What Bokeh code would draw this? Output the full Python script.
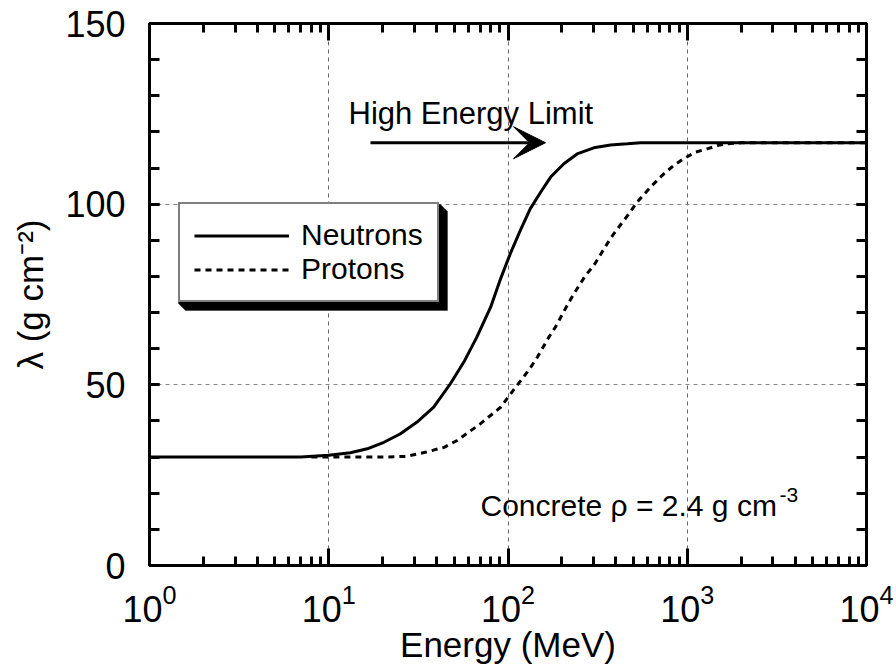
from bokeh.plotting import figure
from bokeh.models import (Range1d, LogAxis, LinearAxis, FixedTicker, SingleIntervalTicker,
                          CustomJSTickFormatter, Legend, LegendItem, Label, Arrow, VeeHead,
                          PolyAnnotation)
from bokeh.embed import file_html
from bokeh.resources import INLINE

# ---------------- data ----------------
energy_neutron = [1, 7, 10, 13.2, 16.4, 20.3, 25, 31.1, 38.5, 47.7, 56.7, 67, 80, 91, 103, 117,
                  133, 152, 173, 205, 243, 301, 373, 462, 550, 10000]
lambda_neutron = [30, 30, 30.5, 31.2, 32.3, 34.1, 36.4, 39.7, 43.8, 50.3, 56.3, 63.2, 71.5, 79.4, 86.3, 92.7,
                  98.7, 103.3, 107.5, 111.2, 113.9, 115.6, 116.4, 116.7, 117, 117]

energy_proton = [8, 20, 27, 35, 44, 52, 70, 91, 110, 122, 134, 146, 169, 184, 214, 233, 271, 301, 357, 389,
                 472, 526, 637, 740, 841, 957, 1112, 1292, 1469, 1671, 2000, 10000]
lambda_proton = [30, 30, 30.2, 31.4, 32.7, 34.6, 39.2, 43.8, 49.3, 52.1, 54.9, 57.7, 63.2, 66.0, 72.0, 75.2,
                 80.3, 83.0, 89.0, 91.8, 97.3, 100.6, 105.2, 108.4, 110.7, 112.6, 114.4, 115.3, 116.2,
                 116.7, 117, 117]

x_major = [1, 10, 100, 1000, 10000]
y_major = [0, 50, 100, 150]
series_names = ["Neutrons", "Protons"]
high_energy_limit = 117

FONT = "Liberation Sans"

# frame geometry (page pixels) used only to place decorations
FX0, FX1, FY0, FY1 = 149, 866, 23, 565
W, H = 896, 666
def xd(px):
    return 10 ** ((px - FX0) / ((FX1 - FX0) / 4.0))
def yd(py):
    return (FY1 - py) / ((FY1 - FY0) / 150.0)

p = figure(width=W, height=H, x_axis_type="log",
           x_range=Range1d(1, 10000), y_range=Range1d(0, 150),
           output_backend="svg", toolbar_location=None,
           min_border_left=FX0, min_border_right=W - FX1, min_border_top=FY0, min_border_bottom=H - FY1)
p.background_fill_color = "white"
p.border_fill_color = "white"
p.outline_line_color = "black"
p.outline_line_width = 3

minor_x = [m * d for d in x_major[:-1] for m in range(2, 10)]
xt = FixedTicker(ticks=x_major, minor_ticks=minor_x)
yt = SingleIntervalTicker(interval=50, num_minor_ticks=5)

def style_axis(ax, is_x):
    ax.axis_line_width = 3
    ax.axis_line_color = "black"
    ax.major_tick_line_width = 3
    ax.minor_tick_line_width = 3
    ax.major_tick_out = 0
    ax.minor_tick_out = 0
    ax.major_tick_in = 17 if is_x else 10
    ax.minor_tick_in = 9 if is_x else 10
    ax.major_label_text_font = FONT
    ax.major_label_text_font_size = "36px"
    ax.major_label_text_color = "black"
    ax.axis_label_text_font = FONT
    ax.axis_label_text_font_style = "normal"
    ax.axis_label_text_color = "black"

xa = p.xaxis[0]
xa.ticker = xt
style_axis(xa, True)
xa.major_label_standoff = 18
xa.axis_label = "Energy (MeV)"
xa.axis_label_text_font_size = "35px"
xa.axis_label_standoff = 0

ya = p.yaxis[0]
ya.ticker = yt
style_axis(ya, False)
ya.major_label_standoff = 24
ya.axis_label = "\u03bb (g cm\u207b\u00b2)"
ya.axis_label_text_font_size = "35px"
ya.axis_label_standoff = 12

top = LogAxis(ticker=xt, formatter=CustomJSTickFormatter(code="return ''"))
style_axis(top, True)
top.major_label_text_font_size = "0px"
top.major_label_standoff = 0
p.add_layout(top, "above")

right = LinearAxis(ticker=yt, formatter=CustomJSTickFormatter(code="return ''"))
style_axis(right, False)
right.major_label_text_font_size = "0px"
right.major_label_standoff = 0
p.add_layout(right, "right")

p.xgrid.ticker = FixedTicker(ticks=x_major[1:-1])
p.xgrid.grid_line_color = "#666666"
p.xgrid.grid_line_dash = "4 4"
p.xgrid.grid_line_width = 1
p.ygrid.ticker = FixedTicker(ticks=y_major[1:-1])
p.ygrid.grid_line_color = "#888888"
p.ygrid.grid_line_dash = "4 4"
p.ygrid.grid_line_width = 1

rp = p.line(energy_proton, lambda_proton, line_color="black", line_width=3, line_dash="6 5")
rn = p.line(energy_neutron, lambda_neutron, line_color="black", line_width=3)

# legend shadow (3-D box effect)
shadow_px = [(440, 204), (447, 211), (447, 310), (185, 310), (178, 303), (178, 204)]
p.add_layout(PolyAnnotation(xs=[xd(a) for a, b in shadow_px], ys=[yd(b) for a, b in shadow_px],
                            fill_color="black", fill_alpha=1, line_color="black", line_width=1))

legend = Legend(items=[LegendItem(label=series_names[0], renderers=[rn]),
                       LegendItem(label=series_names[1], renderers=[rp])],
                location=(178 - FX0, FY1 - 302))
legend.label_text_font = FONT
legend.label_text_font_size = "30px"
legend.label_text_color = "black"
legend.label_height = 33
legend.glyph_height = 33
legend.glyph_width = 95
legend.label_standoff = 12
legend.padding = 14
legend.spacing = 0
legend.margin = 0
legend.border_line_color = "black"
legend.border_line_width = 2
legend.background_fill_color = "white"
legend.background_fill_alpha = 1
p.add_layout(legend)

# arrow + annotations
p.add_layout(Arrow(end=VeeHead(size=32, fill_color="black", line_color="black"),
                   x_start=xd(370), x_end=xd(545), y_start=high_energy_limit, y_end=high_energy_limit,
                   line_width=3, line_color="black"))

def lab(x, y, text, size):
    p.add_layout(Label(x=x, y=y, text=text, text_font=FONT, text_font_size=size,
                       text_baseline="alphabetic", text_align="left", text_color="black"))

lab(xd(348), yd(113), "High Energy Limit", "31px")
lab(xd(480), yd(505), "Concrete \u03c1 = 2.4 g cm", "30px")
lab(xd(779), yd(494), "-3", "21px")

open("out.html", "w").write(file_html(p, INLINE))
